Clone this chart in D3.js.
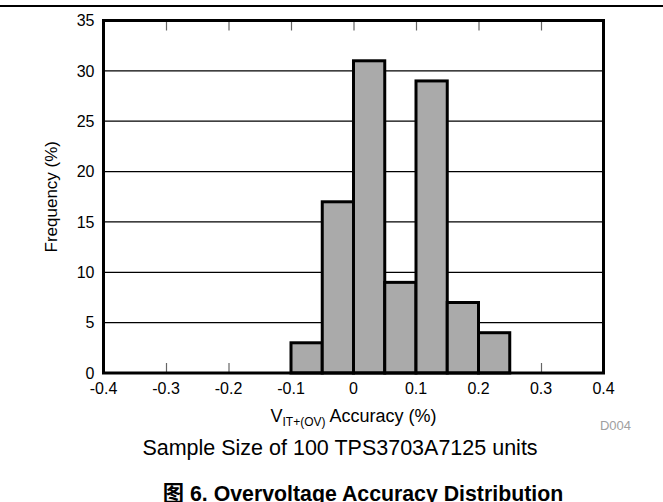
<!DOCTYPE html>
<html>
<head>
<meta charset="utf-8">
<script src="https://cdn.jsdelivr.net/npm/d3@7"></script>
<style>
  html, body { margin: 0; padding: 0; background: #fff; }
  svg { display: block; }
  text { font-family: "Liberation Sans", Arial, "Noto Sans CJK SC", sans-serif; }
</style>
</head>
<body>
<svg id="chart" width="663" height="502"></svg>
<script>
// ---- data ----
const binEdges = [-0.1, -0.05, 0, 0.05, 0.1, 0.15, 0.2, 0.25];
const frequency = [3, 17, 31, 9, 29, 7, 4];
const xTicks = [-0.4, -0.3, -0.2, -0.1, 0, 0.1, 0.2, 0.3, 0.4];
const yTicks = [0, 5, 10, 15, 20, 25, 30, 35];
const xTitleMain = "V";
const xTitleSub = "IT+(OV)";
const xTitleRest = " Accuracy (%)";
const yTitle = "Frequency (%)";
const noteText = "Sample Size of 100 TPS3703A7125 units";
const figTitle = "图 6. Overvoltage Accuracy Distribution";
const codeText = "D004";

(function () {
  const svg = d3.select("#chart");
  const pL = 103.5, pR = 603.5, pT = 20.5, pB = 373;
  const x = d3.scaleLinear().domain([-0.4, 0.4]).range([pL, pR]);
  const y = d3.scaleLinear().domain([0, 35]).range([pB, pT]);

  // top rule
  svg.append("line").attr("x1", 0).attr("x2", 663).attr("y1", 6).attr("y2", 6)
    .attr("stroke", "#000").attr("stroke-width", 2);

  // gridlines
  svg.append("g").selectAll("line").data(yTicks.filter(v => v > 0 && v < 35)).join("line")
    .attr("x1", pL).attr("x2", pR)
    .attr("y1", d => y(d)).attr("y2", d => y(d))
    .attr("stroke", "#000").attr("stroke-width", 1.2);

  // inner ticks top & bottom
  const inner = xTicks.filter(v => v > -0.4 && v < 0.4);
  svg.append("g").attr("transform", `translate(0,${pB})`)
    .call(d3.axisBottom(x).tickValues(inner).tickSize(-10).tickFormat(""))
    .call(g => g.select(".domain").remove())
    .call(g => g.selectAll(".tick line").attr("stroke", "#666").attr("stroke-width", 1.2));
  svg.append("g").attr("transform", `translate(0,${pT})`)
    .call(d3.axisTop(x).tickValues(inner).tickSize(-10).tickFormat(""))
    .call(g => g.select(".domain").remove())
    .call(g => g.selectAll(".tick line").attr("stroke", "#666").attr("stroke-width", 1.2));

  // bars
  const bins = frequency.map((f, i) => ({ x0: binEdges[i], x1: binEdges[i + 1], f }));
  svg.append("g").selectAll("rect").data(bins).join("rect")
    .attr("x", d => x(d.x0)).attr("width", d => x(d.x1) - x(d.x0))
    .attr("y", d => y(d.f)).attr("height", d => y(0) - y(d.f))
    .attr("fill", "#aaaaaa").attr("stroke", "#000").attr("stroke-width", 3);

  // frame
  svg.append("rect").attr("x", pL).attr("y", pT)
    .attr("width", pR - pL).attr("height", pB - pT)
    .attr("fill", "none").attr("stroke", "#000").attr("stroke-width", 3);

  // x tick labels
  svg.append("g").selectAll("text").data(xTicks).join("text")
    .attr("x", d => x(d)).attr("y", 394)
    .attr("text-anchor", "middle").attr("font-size", 16).attr("fill", "#000")
    .text(d => String(d));

  // y tick labels
  svg.append("g").selectAll("text").data(yTicks).join("text")
    .attr("x", 94.5).attr("y", d => y(d) + 5.8)
    .attr("text-anchor", "end").attr("font-size", 16).attr("fill", "#000")
    .text(d => String(d));

  // x title
  const xt = svg.append("text").attr("x", (pL + pR) / 2).attr("y", 422)
    .attr("text-anchor", "middle").attr("font-size", 18).attr("fill", "#000");
  xt.append("tspan").text(xTitleMain);
  xt.append("tspan").attr("font-size", 12).attr("dy", 4).text(xTitleSub);
  xt.append("tspan").attr("dy", -4).text(xTitleRest);

  // y title
  svg.append("text")
    .attr("transform", `translate(57,${(pT + pB) / 2}) rotate(-90)`)
    .attr("text-anchor", "middle").attr("font-size", 17).attr("fill", "#000")
    .text(yTitle);

  // code
  svg.append("text").attr("x", 631).attr("y", 429.5).attr("text-anchor", "end")
    .attr("font-size", 13).attr("fill", "#a0a0a0").text(codeText);

  // note
  svg.append("text").attr("x", 340).attr("y", 455).attr("text-anchor", "middle")
    .attr("font-size", 21.5).attr("fill", "#000").text(noteText);

  // figure title (cut at the bottom edge, as in the reference)
  svg.append("text").attr("x", 363).attr("y", 501).attr("text-anchor", "middle")
    .attr("font-size", 21.3).attr("font-weight", "bold").attr("fill", "#000").text(figTitle);
})();
</script>
</body>
</html>
